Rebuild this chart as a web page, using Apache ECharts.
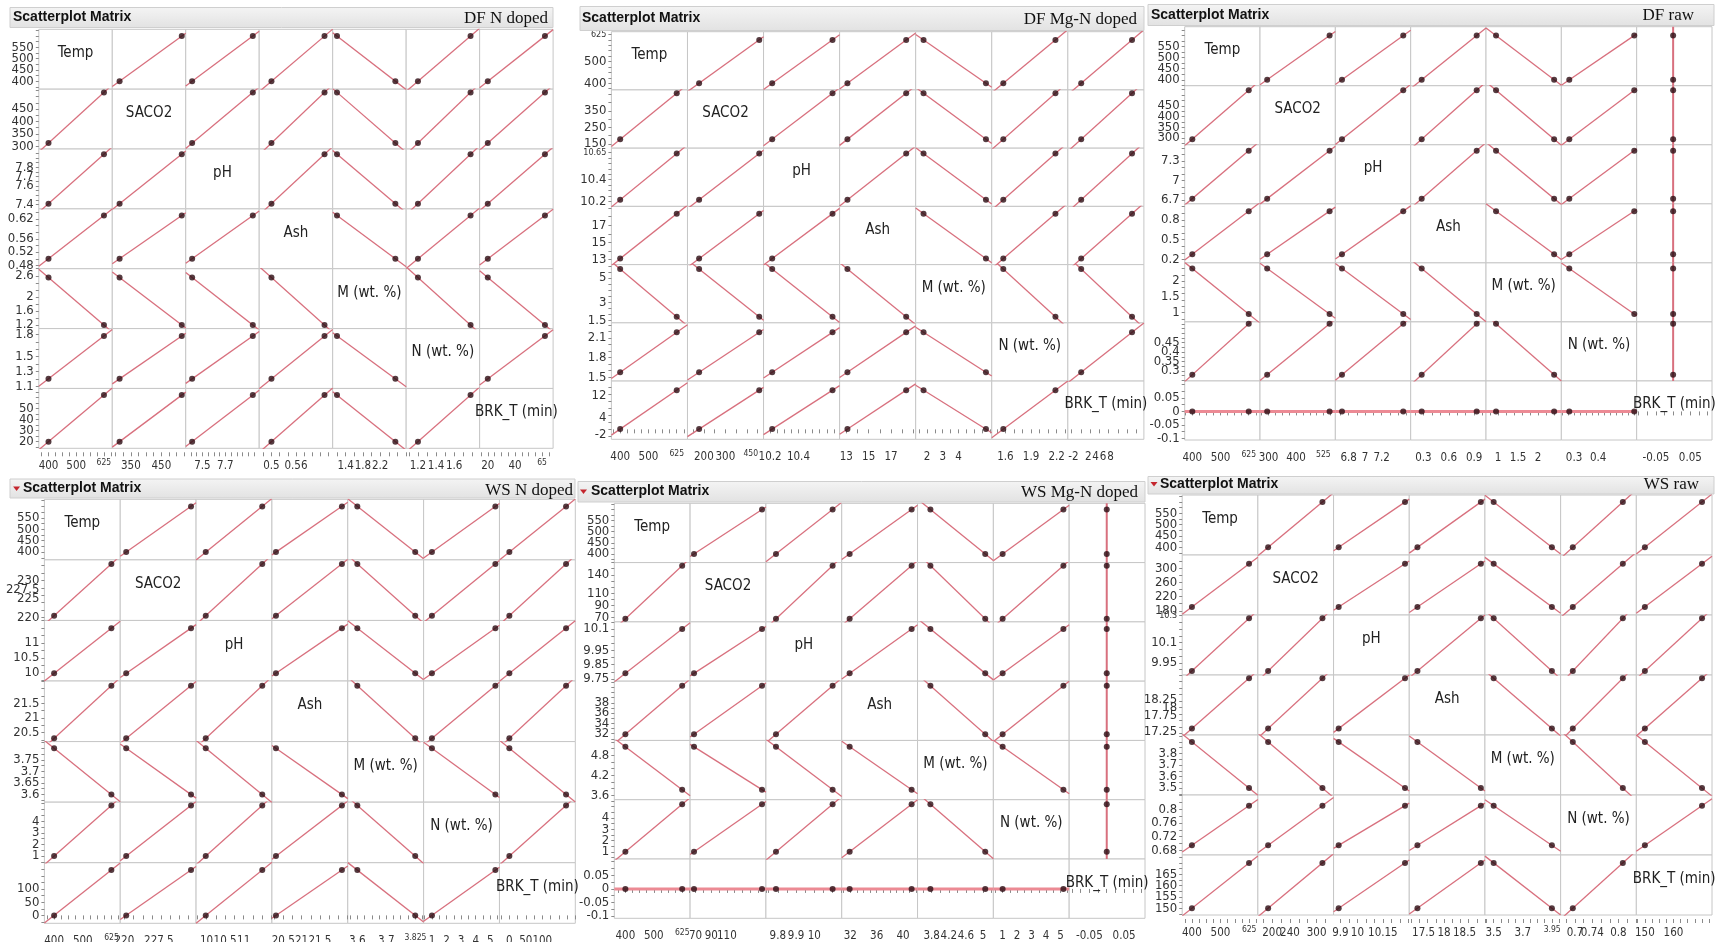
<!DOCTYPE html>
<html><head><meta charset="utf-8">
<script src="https://cdn.jsdelivr.net/npm/echarts@6/dist/echarts.min.js"></script>
<style>html,body{margin:0;padding:0;background:#fff}#c{width:1715px;height:942px}</style>
</head><body><div id="c"></div>
<script>
// ---------- DATA ----------
const VARS = ['Temp', 'SACO2', 'pH', 'Ash', 'M (wt. %)', 'N (wt. %)', 'BRK_T (min)'];

// DF N doped
const DFN_S1 = [400, 313, 7.41, 0.50, 2.55, 1.20, 20];
const DFN_S2 = [600, 517, 7.94, 0.63, 1.20, 1.78, 62];
const DFN_MIN = [365, 289, 7.354, 0.47, 1.10, 1.07, 14];
const DFN_MAX = [630, 530, 7.996, 0.65, 2.80, 1.88, 68];
const DFN_YT = [[400,450,500,550],[300,350,400,450],[7.4,7.6,7.7,7.8],[0.48,0.52,0.56,0.62],[1.2,1.6,2,2.6],[1.1,1.3,1.5,1.8],[20,30,40,50]];
const DFN_XT = [[400,500,625],[350,450],[7.5,7.7],[0.5,0.56],[1.4,1.8,2.2],[1.2,1.4,1.6],[20,40,65]];
const DFN_YSMALL = [];
const DFN_XSMALL = [625, 65];

// DF Mg-N doped
const DFMG_S1 = [400, 178, 10.215, 13.1, 5.75, 1.575, 0.1];
const DFMG_S2 = [600, 457, 10.64, 18.35, 1.78, 2.185, 13.8];
const DFMG_MIN = [369, 124, 10.154, 12.4, 1.28, 1.44, -3.5];
const DFMG_MAX = [638, 477, 10.69, 19.2, 6.12, 2.33, 17];
const DFMG_YT = [[400,500,625],[150,250,350],[10.2,10.4,10.65],[13,15,17],[1.5,3,5],[1.5,1.8,2.1],[-2,4,12]];
const DFMG_XT = [[400,500,625],[200,300,450],[10.2,10.4],[13,15,17],[2,3,4],[1.6,1.9,2.2],[-2,2,4,6,8]];
const DFMG_YSMALL = [625, 10.65];
const DFMG_XSMALL = [625, 450];

// DF raw
const DFR_S1 = [400, 295, 6.72, 0.28, 2.40, 0.28, 0];
const DFR_S2 = [600, 522, 7.46, 0.93, 0.95, 0.55, 0];
const DFR_MIN = [373, 269, 6.64, 0.15, 0.70, 0.247, -0.106];
const DFR_MAX = [640, 543, 7.55, 1.04, 2.58, 0.56, 0.113];
const DFR_YT = [[400,450,500,550],[300,350,400,450],[6.7,7,7.3],[0.2,0.5,0.8],[1,1.5,2],[0.3,0.35,0.4,0.45],[-0.1,-0.05,0,0.05]];
const DFR_XT = [[400,500,625],[300,400,525],[6.8,7,7.2],[0.3,0.6,0.9],[1,1.5,2],[0.3,0.4],[-0.05,0.05]];
const DFR_YSMALL = [];
const DFR_XSMALL = [625, 525];

// WS N doped
const WSN_S1 = [400, 220.4, 9.98, 20.3, 3.80, 1.0, 0];
const WSN_S2 = [600, 234.5, 11.5, 22.1, 3.60, 5.35, 172];
const WSN_MIN = [366, 219.1, 9.72, 20.19, 3.567, 0.43, -30];
const WSN_MAX = [631, 235.6, 11.76, 22.26, 3.829, 5.63, 200];
const WSN_YT = [[400,450,500,550],[220,225,227.5,230],[10,10.5,11],[20.5,21,21.5],[3.6,3.65,3.7,3.75],[1,2,3,4],[0,50,100]];
const WSN_XT = [[400,500,625],[220,227.5],[10,10.5,11],[20.5,21,21.5],[3.6,3.7,3.825],[1,2,3,4,5],[0,50,100]];
const WSN_YSMALL = [];
const WSN_XSMALL = [625, 3.825];

// WS Mg-N doped
const WSMG_S1 = [400, 68, 9.79, 31.9, 5.05, 1.0, 0];
const WSMG_S2 = [600, 155, 10.1, 41.3, 3.77, 5.2, 0];
const WSMG_MIN = [361, 63, 9.735, 30.7, 3.47, 0.36, -0.108];
const WSMG_MAX = [628, 160, 10.15, 42.2, 5.24, 5.6, 0.11];
const WSMG_YT = [[400,450,500,550],[70,90,110,140],[9.75,9.85,9.95,10.1],[32,34,36,38],[3.6,4.2,4.8],[1,2,3,4],[-0.1,-0.05,0,0.05]];
const WSMG_XT = [[400,500,625],[70,90,110],[9.8,9.9,10],[32,36,40],[3.8,4.2,4.6,5],[1,2,3,4,5],[-0.05,0.05]];
const WSMG_YSMALL = [];
const WSMG_XSMALL = [625];

// WS raw
const WSR_S1 = [400, 191, 9.89, 17.35, 3.90, 0.695, 150];
const WSR_S2 = [600, 313, 10.28, 18.9, 3.50, 0.81, 170];
const WSR_MIN = [366, 168, 9.86, 17.15, 3.44, 0.667, 147];
const WSR_MAX = [631, 338, 10.305, 19.0, 3.96, 0.841, 173.5];
const WSR_YT = [[400,450,500,550],[180,220,260,300],[9.95,10.1,10.3],[17.25,17.75,18,18.25],[3.5,3.6,3.7,3.8],[0.68,0.72,0.76,0.8],[150,155,160,165]];
const WSR_XT = [[400,500,625],[200,240,300],[9.9,10,10.15],[17.5,18,18.5],[3.5,3.7,3.95],[0.7,0.74,0.8],[150,160]];
const WSR_YSMALL = [10.3];
const WSR_XSMALL = [625, 3.95];

const PANELS = [
  {title:'DF N doped', s1:DFN_S1, s2:DFN_S2, min:DFN_MIN, max:DFN_MAX, yt:DFN_YT, xt:DFN_XT, ys:DFN_YSMALL, xs:DFN_XSMALL},
  {title:'DF Mg-N doped', s1:DFMG_S1, s2:DFMG_S2, min:DFMG_MIN, max:DFMG_MAX, yt:DFMG_YT, xt:DFMG_XT, ys:DFMG_YSMALL, xs:DFMG_XSMALL},
  {title:'DF raw', s1:DFR_S1, s2:DFR_S2, min:DFR_MIN, max:DFR_MAX, yt:DFR_YT, xt:DFR_XT, ys:DFR_YSMALL, xs:DFR_XSMALL},
  {title:'WS N doped', s1:WSN_S1, s2:WSN_S2, min:WSN_MIN, max:WSN_MAX, yt:WSN_YT, xt:WSN_XT, ys:WSN_YSMALL, xs:WSN_XSMALL},
  {title:'WS Mg-N doped', s1:WSMG_S1, s2:WSMG_S2, min:WSMG_MIN, max:WSMG_MAX, yt:WSMG_YT, xt:WSMG_XT, ys:WSMG_YSMALL, xs:WSMG_XSMALL},
  {title:'WS raw', s1:WSR_S1, s2:WSR_S2, min:WSR_MIN, max:WSR_MAX, yt:WSR_YT, xt:WSR_XT, ys:WSR_YSMALL, xs:WSR_XSMALL}
];

// ---------- LAYOUT ----------
const LAYOUT = [
  {x0:38.8, x1:553.1, y0:29.3, y1:448.3, hx:10, hy:7.5, hw:543, hh:20, tx:13, ty:17.5, rx:548, ry:18.5, tri:false},
  {x0:611.4, x1:1143.9, y0:31.7, y1:439.3, hx:580, hy:6.5, hw:564, hh:24, tx:582, ty:18.3, rx:1137, ry:19.3, tri:false},
  {x0:1184.7, x1:1712, y0:26.7, y1:440, hx:1148, hy:4.5, hw:566, hh:21, tx:1151, ty:15, rx:1694, ry:16, tri:false},
  {x0:44.4, x1:575.3, y0:499.3, y1:923.3, hx:10, hy:479, hw:565, hh:19, tx:23, ty:488.5, rx:573, ry:490.5, tri:true, trx:16.6},
  {x0:614.3, x1:1145, y0:503.3, y1:918.3, hx:578, hy:481.5, hw:567, hh:20.5, tx:591, ty:491.5, rx:1138, ry:493, tri:true, trx:583.5},
  {x0:1182.2, x1:1712, y0:495, y1:915, hx:1148, hy:476.5, hw:566, hh:17.5, tx:1160, ty:484, rx:1699, ry:484.5, tri:true, trx:1154}
];

const NARROW = '"Liberation Sans Narrow","DejaVu Sans Condensed","Liberation Sans",Arial,sans-serif';
const LINE_COLOR = '#d8707e';
const DOT_COLOR = '#2a0b12';

function niceStep(r){
  const e = Math.pow(10, Math.floor(Math.log10(r)));
  const f = r / e;
  let n = f < 1.5 ? 1 : f < 2.25 ? 2 : f < 3.5 ? 2.5 : f < 7.5 ? 5 : 10;
  return n * e;
}
function tickVals(min, max){
  const st = niceStep((max - min) / 9);
  const out = [];
  for (let k = Math.ceil(min / st - 1e-9); k * st <= max + 1e-9; k++) out.push(+(k * st).toFixed(10));
  return out;
}
function isIn(list, v){ return list.some(s => Math.abs(s - v) < 1e-9); }
function everyOther(arr, start){ return arr.filter((_, k) => k % 2 === start); }

const option = {animation:false, backgroundColor:'#fff', grid:[], xAxis:[], yAxis:[], series:[], graphic:[]};

function xAxisDef(g, min, max, labels, small, show, withTicks){
  return {type:'value', gridIndex:g, min:min, max:max, show:show, position:'bottom', offset:4,
    axisLine:{show:false}, splitLine:{show:false},
    axisTick:{show:withTicks, customValues:tickVals(min, max), length:4, lineStyle:{color:'#8a8a8a'}},
    axisLabel:{show:labels.length > 0, customValues:labels, showMinLabel:true, showMaxLabel:true, margin:8,
      fontSize:11.5, lineHeight:12, color:'#333', fontFamily:NARROW, hideOverlap:false,
      formatter:v => isIn(small, v) ? '{s|' + v + '}' : String(v),
      rich:{s:{fontSize:8.5, lineHeight:9, color:'#333', fontFamily:NARROW, padding:[0, 14, 4, 0]}}}};
}
function yAxisDef(g, min, max, labels, small, show, withTicks){
  return {type:'value', gridIndex:g, min:min, max:max, show:show, position:'left', offset:0,
    axisLine:{show:false}, splitLine:{show:false},
    axisTick:{show:withTicks, customValues:tickVals(min, max), length:3, lineStyle:{color:'#8a8a8a'}},
    axisLabel:{show:labels.length > 0, customValues:labels, showMinLabel:true, showMaxLabel:true, margin:5,
      fontSize:13, lineHeight:8, color:'#333', fontFamily:NARROW, hideOverlap:false,
      formatter:v => isIn(small, v) ? '{s|' + v + '}' : String(v),
      rich:{s:{fontSize:9, lineHeight:8, color:'#333', fontFamily:NARROW}}}};
}

PANELS.forEach((P, p) => {
  const L = LAYOUT[p];
  const cw = (L.x1 - L.x0) / 7, ch = (L.y1 - L.y0) / 7;

  // header bar
  option.graphic.push({type:'rect', z:50, shape:{x:L.hx, y:L.hy, width:L.hw, height:L.hh},
    style:{fill:new echarts.graphic.LinearGradient(0,0,0,1,[{offset:0,color:'#f4f4f4'},{offset:1,color:'#e2e2e2'}]), stroke:'#cfcfcf', lineWidth:1}});
  if (L.tri) {
    option.graphic.push({type:'polygon', z:51, shape:{points:[[L.trx-3.5, L.ty-2],[L.trx+3.5, L.ty-2],[L.trx, L.ty+2.5]]}, style:{fill:'#c4262e'}});
  }
  option.graphic.push({type:'text', z:51, x:L.tx, y:L.ty, style:{text:'Scatterplot Matrix', font:'bold 14px "Liberation Sans",Arial,sans-serif', fill:'#111', align:'left', verticalAlign:'middle', textAlign:'left', textVerticalAlign:'middle'}});
  option.graphic.push({type:'text', z:51, x:L.rx, y:L.ry, style:{text:P.title, font:'17px "Liberation Serif","Times New Roman",serif', fill:'#111', align:'right', verticalAlign:'middle', textAlign:'right', textVerticalAlign:'middle'}});

  for (let i = 0; i < 7; i++) {
    for (let j = 0; j < 7; j++) {
      const g = option.grid.length;
      option.grid.push({left:L.x0 + j*cw, top:L.y0 + i*ch, width:cw, height:ch, show:true,
        borderColor:'#c6c6c6', borderWidth:1, backgroundColor:'#fff', containLabel:false, outerBoundsMode:'none'});
      const xmin = P.min[j], xmax = P.max[j], ymin = P.min[i], ymax = P.max[i];
      const ix = option.xAxis.length;
      option.xAxis.push(xAxisDef(g, xmin, xmax, everyOther(P.xt[j], 0), P.xs, i === 6, true));
      if (i === 6) option.xAxis.push(xAxisDef(g, xmin, xmax, everyOther(P.xt[j], 1), P.xs, true, false));
      const iy = option.yAxis.length;
      option.yAxis.push(yAxisDef(g, ymin, ymax, everyOther(P.yt[i], 0), P.ys, j === 0, true));
      if (j === 0) option.yAxis.push(yAxisDef(g, ymin, ymax, everyOther(P.yt[i], 1), P.ys, true, false));

      if (i === j) {
        option.graphic.push({type:'text', z:60, x:L.x0 + j*cw + cw/2, y:L.y0 + i*ch + ch*0.40,
          style:{text:VARS[i], font:'15px ' + NARROW, fill:'#222', align:'center', verticalAlign:'middle', textAlign:'center', textVerticalAlign:'middle'}});
        continue;
      }
      const x1 = P.s1[j], x2 = P.s2[j], y1 = P.s1[i], y2 = P.s2[i];
      let line, lw = 1.3, lc = LINE_COLOR;
      if (x1 === x2) {
        line = [[x1, ymin], [x1, ymax]]; lw = 2;
      } else if (y1 === y2) {
        line = [[xmin, y1], [xmax, y1]]; lw = 3; lc = '#ec8a94';
      } else {
        const m = (y2 - y1) / (x2 - x1);
        line = [[xmin, y1 + m*(xmin - x1)], [xmax, y1 + m*(xmax - x1)]];
      }
      option.series.push({type:'line', xAxisIndex:ix, yAxisIndex:iy, data:line, symbol:'none', showSymbol:false,
        clip:true, silent:true, z:2, lineStyle:{color:lc, width:lw}});
      option.series.push({type:'scatter', xAxisIndex:ix, yAxisIndex:iy, data:[[x1, y1], [x2, y2]], symbolSize:6,
        silent:true, z:3, itemStyle:{color:DOT_COLOR}});
    }
  }
});

const chart = echarts.init(document.getElementById('c'), null, {renderer:'canvas'});
chart.setOption(option);
</script>
</body></html>
